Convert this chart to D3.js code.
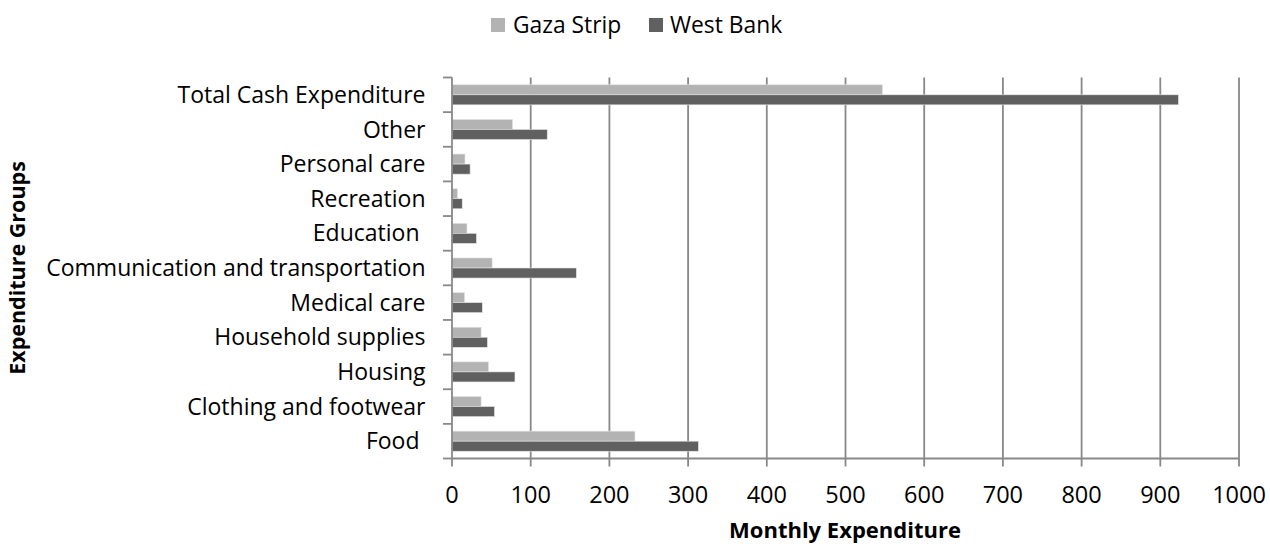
<!DOCTYPE html>
<html><head><meta charset="utf-8">
<script src="https://cdn.jsdelivr.net/npm/d3@7"></script>
<style>
body{margin:0;background:#fff;}
text{font-family:"Open Sans",sans-serif;fill:#000;}
</style></head>
<body>
<svg id="c" width="1270" height="544"></svg>
<script>
const categories = ["Total Cash Expenditure","Other","Personal care","Recreation","Education ","Communication and transportation","Medical care","Household supplies","Housing","Clothing and footwear","Food "];
const seriesNames = ["Gaza Strip","West Bank"];
const gaza = [547, 77, 16.5, 7, 19, 51, 16, 37, 46.5, 37, 232.5];
const westBank = [923, 121, 23, 13, 31, 158, 38.5, 45, 80, 54, 313];
const xTicks = [0,100,200,300,400,500,600,700,800,900,1000];
const colors = ["#b3b3b3","#606060"];

const svg = d3.select("#c");
const L = 452, R = 1239, T = 77.5, B = 458.5;
const x = d3.scaleLinear().domain([0,1000]).range([L,R]);
const y = d3.scaleBand().domain(categories).range([T,B]).paddingInner(0.42).paddingOuter(0.21);
const sub = d3.scaleBand().domain(seriesNames).range([0,y.bandwidth()]);

// gridlines
svg.append("g").selectAll("line").data(xTicks.slice(1)).join("line")
  .attr("x1",d=>x(d)).attr("x2",d=>x(d)).attr("y1",T).attr("y2",B+8)
  .attr("stroke","#888").attr("stroke-width",1.8);

// bars
const data = [gaza, westBank];
seriesNames.forEach((s,si)=>{
  svg.append("g").selectAll("rect").data(categories).join("rect")
    .attr("x",x(0)).attr("y",d=>y(d)+sub(s))
    .attr("width",(d,i)=>x(data[si][i])-x(0))
    .attr("height",sub.bandwidth())
    .attr("fill",colors[si]).attr("stroke","#e4e4e4").attr("stroke-width",0.6);
});

// y axis
const yAxisG = svg.append("g");
yAxisG.append("line").attr("x1",L).attr("x2",L).attr("y1",T).attr("y2",B+8).attr("stroke","#888").attr("stroke-width",1.8);
const bounds = categories.map(c=>y(c)-y.step()*y.paddingInner()/2).concat([B]);
yAxisG.selectAll("line.t").data(bounds).join("line").attr("class","t")
  .attr("x1",L-9).attr("x2",L).attr("y1",d=>d).attr("y2",d=>d).attr("stroke","#888").attr("stroke-width",1.8);
yAxisG.selectAll("text").data(categories).join("text")
  .attr("x",425.5).attr("y",d=>y(d)+y.bandwidth()/2).attr("dy","0.35em")
  .attr("text-anchor","end").style("white-space","pre").attr("font-size",23).text(d=>d);

// x axis
svg.append("line").attr("x1",L).attr("x2",R).attr("y1",B).attr("y2",B).attr("stroke","#888").attr("stroke-width",1.8);
svg.append("g").selectAll("text").data(xTicks).join("text")
  .attr("x",d=>x(d)).attr("y",503).attr("text-anchor","middle").attr("font-size",23.5).text(d=>d);

svg.append("text").attr("x",845).attr("y",538).attr("text-anchor","middle")
  .attr("font-size",22).attr("font-weight","bold").text("Monthly Expenditure");
svg.append("text").attr("transform","translate(25,268) rotate(-90)").attr("text-anchor","middle")
  .attr("font-size",21.5).attr("font-weight","bold").text("Expenditure Groups");

// legend
const leg = [{n:"Gaza Strip",x:491,tx:513},{n:"West Bank",x:649,tx:670}];
leg.forEach((l,i)=>{
  svg.append("rect").attr("x",l.x).attr("y",18).attr("width",14).attr("height",14).attr("fill",colors[i]);
  svg.append("text").attr("x",l.tx).attr("y",25).attr("dy","0.35em").attr("font-size",22.8).text(l.n);
});
</script>
</body></html>
